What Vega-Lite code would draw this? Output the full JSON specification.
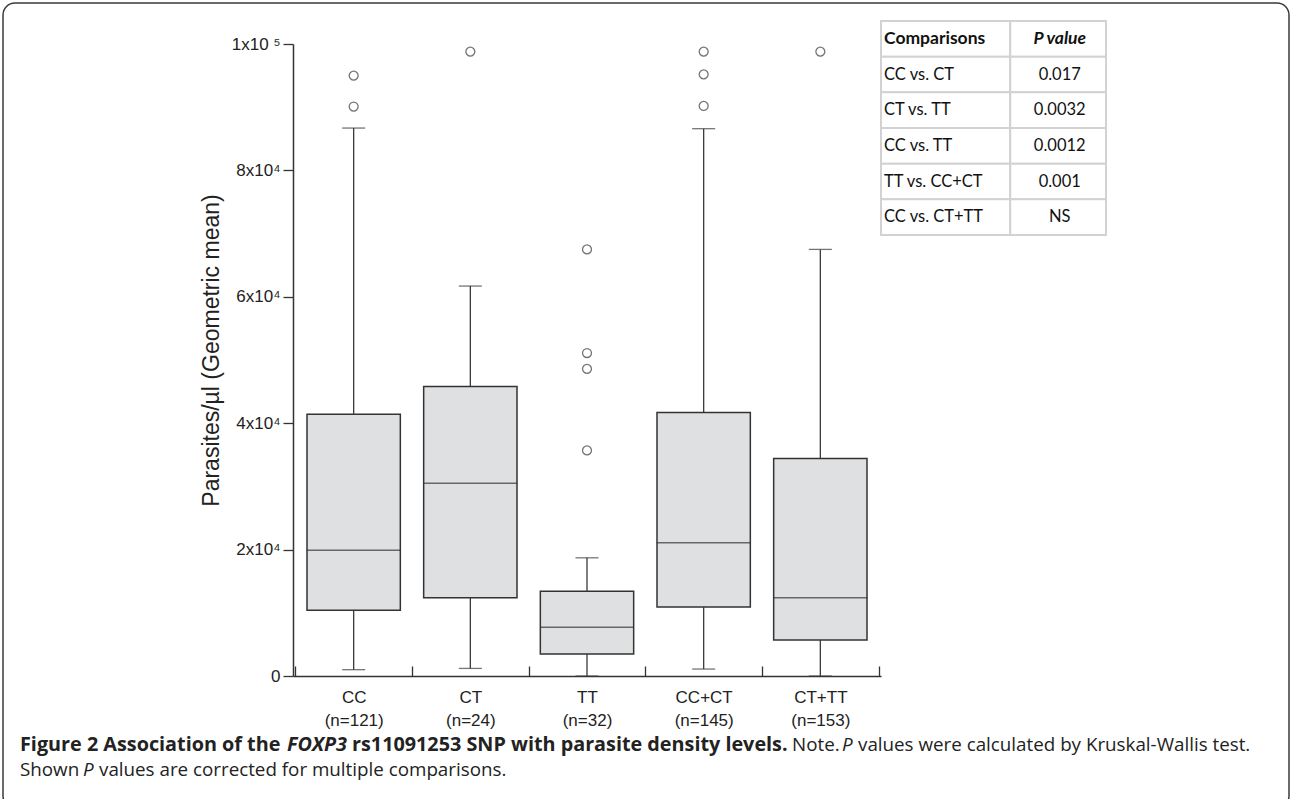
{
  "$schema": "https://vega.github.io/schema/vega-lite/v6.json",
  "width": 1286,
  "height": 805,
  "autosize": {"type": "none"},
  "padding": {"left": 3, "top": 3, "right": 3, "bottom": 0},
  "background": "white",
  "config": {
    "view": {"stroke": "#3a3a3a", "strokeWidth": 1.5, "cornerRadius": 12, "fill": "white"},
    "font": "Liberation Sans"
  },
  "datasets": {
    "boxes": [
      {"group": "CC (n=121)", "lower": 1000, "q1": 10400, "median": 19900, "q3": 41400, "upper": 86700},
      {"group": "CT (n=24)", "lower": 1200, "q1": 12400, "median": 30500, "q3": 45800, "upper": 61700},
      {"group": "TT (n=32)", "lower": 0, "q1": 3500, "median": 7700, "q3": 13400, "upper": 18700},
      {"group": "CC+CT (n=145)", "lower": 1100, "q1": 10900, "median": 21100, "q3": 41700, "upper": 86600},
      {"group": "CT+TT (n=153)", "lower": 0, "q1": 5700, "median": 12400, "q3": 34400, "upper": 67500}
    ],
    "outliers": [
      {"group": "CC (n=121)", "value": 95000},
      {"group": "CC (n=121)", "value": 90100},
      {"group": "CT (n=24)", "value": 98800},
      {"group": "TT (n=32)", "value": 67500},
      {"group": "TT (n=32)", "value": 51100},
      {"group": "TT (n=32)", "value": 48600},
      {"group": "TT (n=32)", "value": 35700},
      {"group": "CC+CT (n=145)", "value": 98800},
      {"group": "CC+CT (n=145)", "value": 95200},
      {"group": "CC+CT (n=145)", "value": 90200},
      {"group": "CT+TT (n=153)", "value": 98800}
    ],
    "table": [
      {"r": 0, "comp": "Comparisons", "p": "P value"},
      {"r": 1, "comp": "CC vs. CT", "p": "0.017"},
      {"r": 2, "comp": "CT vs. TT", "p": "0.0032"},
      {"r": 3, "comp": "CC vs. TT", "p": "0.0012"},
      {"r": 4, "comp": "TT vs. CC+CT", "p": "0.001"},
      {"r": 5, "comp": "CC vs. CT+TT", "p": "NS"}
    ],
    "caption": [
      {"seg": "a", "text": "Figure 2 Association of the"},
      {"seg": "b", "text": "FOXP3"},
      {"seg": "c", "text": "rs11091253 SNP with parasite density levels."},
      {"seg": "d", "text": "Note."},
      {"seg": "e", "text": "P"},
      {"seg": "f", "text": "values were calculated by Kruskal-Wallis test."},
      {"seg": "g", "text": "Shown"},
      {"seg": "h", "text": "P"},
      {"seg": "i", "text": "values are corrected for multiple comparisons."}
    ]
  },
  "resolve": {"scale": {"x": "independent", "y": "independent"}, "axis": {"x": "independent", "y": "independent"}},
  "layer": [
    {
      "encoding": {
        "x": {
          "field": "group", "type": "nominal",
          "sort": ["CC (n=121)", "CT (n=24)", "TT (n=32)", "CC+CT (n=145)", "CT+TT (n=153)"],
          "scale": {"type": "band", "range": [290, 878], "paddingInner": 0, "paddingOuter": 0.02},
          "axis": {
            "orient": "bottom", "offset": -132, "title": null,
            "labelExpr": "datum.value ? split(datum.value, ' ') : ''",
            "labelAngle": 0, "labelFontSize": 17, "labelLineHeight": 23, "labelColor": "#222",
            "labelPadding": 23, "labelBaseline": "top",
            "tickBand": "extent", "tickSize": -10, "tickColor": "#333", "tickWidth": 1.3,
            "domainColor": "#333", "domainWidth": 1.5
          }
        }
      },
      "layer": [
        {
          "data": {"name": "boxes"},
          "mark": {"type": "rule", "color": "#3a3a3a", "strokeWidth": 1.3},
          "encoding": {
            "y": {
              "field": "lower", "type": "quantitative",
              "scale": {"domain": [0, 100000], "range": [673, 41], "nice": false, "zero": true},
              "axis": {
                "orient": "left", "offset": -290, "title": "Parasites/µl (Geometric mean)",
                "values": [0, 20000, 40000, 60000, 80000, 100000],
                "labelExpr": "datum.value == 0 ? '0' : datum.value == 100000 ? '1x10 ⁵' : (datum.value / 10000) + 'x10⁴'",
                "grid": false, "domainColor": "#333", "domainWidth": 1.5,
                "tickColor": "#333", "tickWidth": 1.3, "tickSize": 10,
                "labelFontSize": 17, "labelColor": "#222", "labelPadding": 3,
                "titleFontSize": 23, "titleFontWeight": "normal", "titleColor": "#222", "titlePadding": 8,
                "titleY": 347
              }
            },
            "y2": {"field": "upper"}
          }
        },
        {
          "data": {"name": "boxes"},
          "mark": {"type": "bar", "fill": "#dfe0e2", "stroke": "#333", "strokeWidth": 1.5, "width": {"band": 0.8}},
          "encoding": {
            "y": {"field": "q1", "type": "quantitative"},
            "y2": {"field": "q3"}
          }
        },
        {
          "data": {"name": "boxes"},
          "mark": {"type": "tick", "color": "#333", "thickness": 1.5, "size": 94},
          "encoding": {"y": {"field": "median", "type": "quantitative"}}
        },
        {
          "data": {"name": "boxes"},
          "mark": {"type": "tick", "color": "#3a3a3a", "thickness": 1.3, "size": 23},
          "encoding": {"y": {"field": "upper", "type": "quantitative"}}
        },
        {
          "data": {"name": "boxes"},
          "mark": {"type": "tick", "color": "#3a3a3a", "thickness": 1.3, "size": 23},
          "encoding": {"y": {"field": "lower", "type": "quantitative"}}
        },
        {
          "data": {"name": "outliers"},
          "mark": {"type": "point", "shape": "circle", "filled": false, "size": 80, "stroke": "#3a3a3a", "strokeWidth": 1.3},
          "encoding": {"y": {"field": "value", "type": "quantitative"}}
        }
      ]
    },
    {
      "data": {"name": "table"},
      "encoding": {
        "y": {"field": "r", "type": "ordinal", "scale": {"range": [18, 232], "paddingInner": 0, "paddingOuter": 0}, "axis": null}
      },
      "layer": [
        {
          "mark": {"type": "rect", "fill": "white", "stroke": "#d2d2d2", "strokeWidth": 2},
          "encoding": {
            "x": {"datum": 0, "type": "quantitative", "scale": {"type": "pow", "exponent": 0.8, "domain": [0, 2], "range": [878, 1103]}, "axis": null},
            "x2": {"datum": 1}
          }
        },
        {
          "mark": {"type": "rect", "fill": "white", "stroke": "#d2d2d2", "strokeWidth": 2},
          "encoding": {
            "x": {"datum": 1, "type": "quantitative"},
            "x2": {"datum": 2}
          }
        },
        {
          "transform": [{"filter": "datum.r > 0"}],
          "mark": {"type": "text", "align": "left", "baseline": "middle", "dx": 3, "font": "Lato", "fontSize": 16.5, "color": "#111"},
          "encoding": {
            "x": {"datum": 0, "type": "quantitative"},
            "text": {"field": "comp"}
          }
        },
        {
          "transform": [{"filter": "datum.r == 0"}],
          "mark": {"type": "text", "align": "left", "baseline": "middle", "dx": 3, "font": "Lato", "fontSize": 17.5, "fontWeight": "bold", "color": "#111"},
          "encoding": {
            "x": {"datum": 0, "type": "quantitative"},
            "text": {"field": "comp"}
          }
        },
        {
          "transform": [{"filter": "datum.r > 0"}],
          "mark": {"type": "text", "align": "center", "baseline": "middle", "font": "Lato", "fontSize": 16.5, "color": "#111"},
          "encoding": {
            "x": {"datum": 1.5, "type": "quantitative"},
            "text": {"field": "p"}
          }
        },
        {
          "transform": [{"filter": "datum.r == 0"}],
          "mark": {"type": "text", "align": "center", "baseline": "middle", "font": "Lato", "fontSize": 17.5, "fontWeight": "bold", "fontStyle": "italic", "color": "#111"},
          "encoding": {
            "x": {"datum": 1.5, "type": "quantitative"},
            "text": {"field": "p"}
          }
        }
      ]
    },
    {
      "data": {"name": "caption"},
      "layer": [
        {"transform": [{"filter": "datum.seg == 'a'"}], "mark": {"type": "text", "x": 17, "y": 742, "align": "left", "baseline": "middle", "font": "Open Sans", "fontSize": 19.8, "fontWeight": "bold", "color": "#222"}, "encoding": {"text": {"field": "text"}}},
        {"transform": [{"filter": "datum.seg == 'b'"}], "mark": {"type": "text", "x": 284, "y": 742, "align": "left", "baseline": "middle", "font": "Open Sans", "fontSize": 19.8, "fontWeight": "bold", "fontStyle": "italic", "color": "#222"}, "encoding": {"text": {"field": "text"}}},
        {"transform": [{"filter": "datum.seg == 'c'"}], "mark": {"type": "text", "x": 349, "y": 742, "align": "left", "baseline": "middle", "font": "Open Sans", "fontSize": 19.8, "fontWeight": "bold", "color": "#222"}, "encoding": {"text": {"field": "text"}}},
        {"transform": [{"filter": "datum.seg == 'd'"}], "mark": {"type": "text", "x": 789, "y": 742, "align": "left", "baseline": "middle", "font": "Open Sans", "fontSize": 18.8, "color": "#222"}, "encoding": {"text": {"field": "text"}}},
        {"transform": [{"filter": "datum.seg == 'e'"}], "mark": {"type": "text", "x": 839, "y": 742, "align": "left", "baseline": "middle", "font": "Open Sans", "fontSize": 18.8, "fontStyle": "italic", "color": "#222"}, "encoding": {"text": {"field": "text"}}},
        {"transform": [{"filter": "datum.seg == 'f'"}], "mark": {"type": "text", "x": 855, "y": 742, "align": "left", "baseline": "middle", "font": "Open Sans", "fontSize": 18.8, "color": "#222"}, "encoding": {"text": {"field": "text"}}},
        {"transform": [{"filter": "datum.seg == 'g'"}], "mark": {"type": "text", "x": 17, "y": 767, "align": "left", "baseline": "middle", "font": "Open Sans", "fontSize": 18.8, "color": "#222"}, "encoding": {"text": {"field": "text"}}},
        {"transform": [{"filter": "datum.seg == 'h'"}], "mark": {"type": "text", "x": 80, "y": 767, "align": "left", "baseline": "middle", "font": "Open Sans", "fontSize": 18.8, "fontStyle": "italic", "color": "#222"}, "encoding": {"text": {"field": "text"}}},
        {"transform": [{"filter": "datum.seg == 'i'"}], "mark": {"type": "text", "x": 96, "y": 767, "align": "left", "baseline": "middle", "font": "Open Sans", "fontSize": 18.8, "color": "#222"}, "encoding": {"text": {"field": "text"}}}
      ]
    }
  ]
}
